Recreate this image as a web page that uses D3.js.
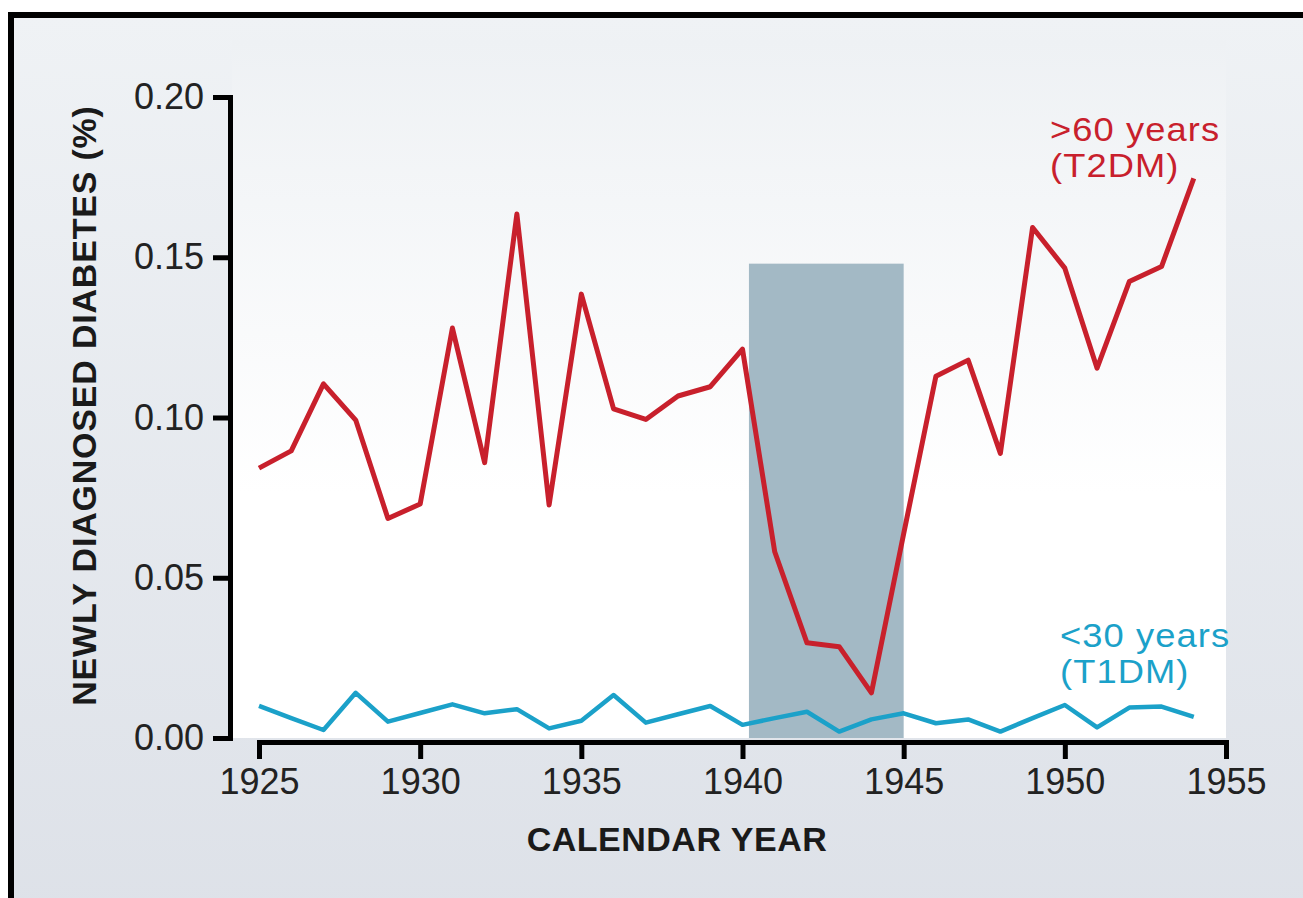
<!DOCTYPE html>
<html>
<head>
<meta charset="utf-8">
<script src="https://cdn.jsdelivr.net/npm/d3@7"></script>
<style>
  body { margin: 0; background: #fff; }
  text { font-family: "Liberation Sans", Arial, Helvetica, sans-serif; }
</style>
</head>
<body>
<script>
// chart data
var years = d3.range(1925, 1955);
var over60 = [0.0842, 0.0896, 0.1105, 0.0992, 0.0685, 0.0730, 0.1279, 0.0859, 0.1635, 0.0727,
              0.1385, 0.1027, 0.0994, 0.1067, 0.1096, 0.1213, 0.0581, 0.0297, 0.0285, 0.0141,
              0.0637, 0.1129, 0.1179, 0.0888, 0.1593, 0.1466, 0.1154, 0.1424, 0.1471, 0.1746];
var under30 = [0.0100, 0.0062, 0.0025, 0.0141, 0.0051, 0.0078, 0.0105, 0.0077, 0.0090, 0.0030,
               0.0054, 0.0134, 0.0048, 0.0074, 0.0100, 0.0041, 0.0062, 0.0082, 0.0020, 0.0058,
               0.0077, 0.0046, 0.0058, 0.0020, 0.0062, 0.0103, 0.0033, 0.0095, 0.0098, 0.0066];
var warYears = [1940.2, 1945];
var warTop = 0.148;
var xTicks = [1925, 1930, 1935, 1940, 1945, 1950, 1955];
var yTicks = [0, 0.05, 0.10, 0.15, 0.20];
var labelOver60 = [">60 years", "(T2DM)"];
var labelUnder30 = ["<30 years", "(T1DM)"];

// size & colours
var width = 1303;
var height = 898;
var red = "#c8202c";
var blue = "#1ba1c9";

var svg = d3.select("body")
            .append("svg")
            .attr("width", width)
            .attr("height", height);

var defs = svg.append("defs");
var bgGrad = defs.append("linearGradient")
                 .attr("id", "bgGrad")
                 .attr("x1", 0).attr("y1", 0).attr("x2", 0).attr("y2", 1);
bgGrad.append("stop").attr("offset", "0%").attr("stop-color", "#eff2f5");
bgGrad.append("stop").attr("offset", "100%").attr("stop-color", "#dde1e8");

var plotGrad = defs.append("linearGradient")
                   .attr("id", "plotGrad")
                   .attr("x1", 0).attr("y1", 0).attr("x2", 0).attr("y2", 1);
plotGrad.append("stop").attr("offset", "0%").attr("stop-color", "#eef1f4");
plotGrad.append("stop").attr("offset", "65%").attr("stop-color", "#ffffff");
plotGrad.append("stop").attr("offset", "100%").attr("stop-color", "#ffffff");

// scales
var x = d3.scaleLinear().domain([1925, 1955]).range([259, 1226]);
var y = d3.scaleLinear().domain([0, 0.20]).range([738, 97]);

// outer framed panel
svg.append("rect")
   .attr("x", 11).attr("y", 15)
   .attr("width", width + 20).attr("height", height + 20)
   .attr("fill", "url(#bgGrad)")
   .attr("stroke", "#000")
   .attr("stroke-width", 6);

// plot area
svg.append("rect")
   .attr("x", 232).attr("y", 40)
   .attr("width", x(1955) - 232).attr("height", y(0) - 40)
   .attr("fill", "url(#plotGrad)");

// war period band
svg.append("rect")
   .attr("x", x(warYears[0]))
   .attr("y", y(warTop))
   .attr("width", x(warYears[1]) - x(warYears[0]))
   .attr("height", y(0) - y(warTop))
   .attr("fill", "#a3b9c5");

// lines
var line = function(values) {
  return d3.line()
           .x(function(d, i) { return x(years[i]); })
           .y(function(d) { return y(d); })(values);
};

svg.append("path")
   .attr("d", line(under30))
   .attr("fill", "none")
   .attr("stroke", blue)
   .attr("stroke-width", 4.5)
   .attr("stroke-linejoin", "round");

svg.append("path")
   .attr("d", line(over60))
   .attr("fill", "none")
   .attr("stroke", red)
   .attr("stroke-width", 5)
   .attr("stroke-linejoin", "round");

// axes
var yAxis = svg.append("g")
               .attr("transform", "translate(230,0)")
               .call(d3.axisLeft(y).tickValues(yTicks).tickFormat(d3.format(".2f"))
                       .tickSize(17).tickPadding(9));
var xAxis = svg.append("g")
               .attr("transform", "translate(0,742)")
               .call(d3.axisBottom(x).tickValues(xTicks).tickFormat(d3.format("d"))
                       .tickSize(17).tickPadding(9));

[yAxis, xAxis].forEach(function(g) {
  g.selectAll("path, line").attr("stroke", "#000").attr("stroke-width", 5);
  g.selectAll("text").attr("fill", "#222").attr("font-size", 36)
   .style("font-family", '"Liberation Sans", Arial, sans-serif');
});

// axis titles
svg.append("text")
   .attr("transform", "translate(96," + (y(0.10) - 12) + ") rotate(-90)")
   .attr("text-anchor", "middle")
   .attr("font-size", 34)
   .attr("font-weight", "bold")
   .attr("letter-spacing", 0.8)
   .attr("fill", "#1a1a1a")
   .text("NEWLY DIAGNOSED DIABETES (%)");

svg.append("text")
   .attr("x", 677)
   .attr("y", 851)
   .attr("text-anchor", "middle")
   .attr("font-size", 34)
   .attr("font-weight", "bold")
   .attr("letter-spacing", 0.5)
   .attr("fill", "#1a1a1a")
   .text("CALENDAR YEAR");

// series labels (slightly widened, tight leading as in the reference)
function seriesLabel(lines, xPos, yPos, colour) {
  var g = svg.append("g")
             .attr("transform", "translate(" + xPos + "," + yPos + ") scale(1.1,1)");
  g.selectAll("text")
   .data(lines)
   .enter().append("text")
   .attr("x", 0)
   .attr("y", function(d, i) { return i * 36; })
   .attr("font-size", 33)
   .attr("letter-spacing", 1)
   .attr("fill", colour)
   .text(function(d) { return d; });
}
seriesLabel(labelOver60, 1050, 141, red);
seriesLabel(labelUnder30, 1060, 647, blue);
</script>
</body>
</html>
